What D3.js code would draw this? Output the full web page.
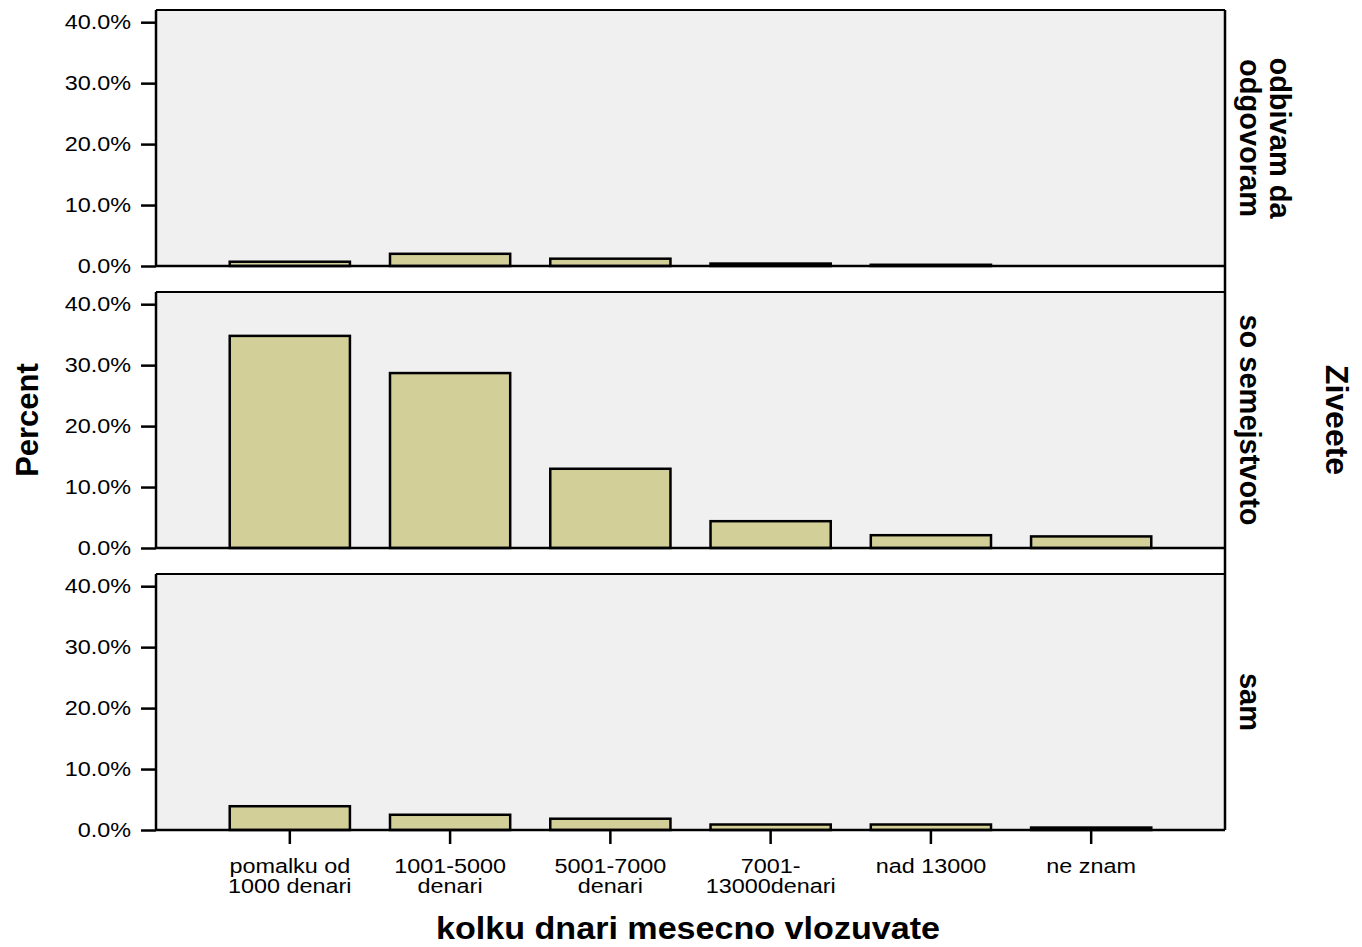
<!DOCTYPE html>
<html>
<head>
<meta charset="utf-8">
<script src="https://cdn.jsdelivr.net/npm/d3@7/dist/d3.min.js"></script>
<style>
  html, body { margin: 0; padding: 0; background: #fff; }
  text { font-family: "Liberation Sans", Arial, Helvetica, sans-serif; fill: #000; }
</style>
</head>
<body>
<svg id="chart" width="1362" height="947"></svg>
<script>
// ---- data ----
const categories = ["pomalku od\n1000 denari", "1001-5000\ndenari", "5001-7000\ndenari", "7001-\n13000denari", "nad 13000", "ne znam"];
const panelNames = ["odbivam da\nodgovoram", "so semejstvoto", "sam"];
const valuesOdbivam = [0.7, 2.0, 1.2, 0.4, 0.2, 0];
const valuesSemejstvo = [34.8, 28.7, 13.0, 4.4, 2.1, 1.9];
const valuesSam = [3.9, 2.5, 1.85, 0.9, 0.9, 0.4];
const yTicks = [0, 10, 20, 30, 40];
const xTitle = "kolku dnari mesecno vlozuvate";
const yTitle = "Percent";
const facetTitle = "Ziveete";

const panelValues = [valuesOdbivam, valuesSemejstvo, valuesSam];

// ---- layout ----
const svg = d3.select("#chart");
const left = 156, right = 1225;
const panelTops = [10, 292, 574];
const panelH = 256;
const barFill = "#d3cf99";
const bg = "#f0f0f0";

const x = d3.scaleBand().domain(categories).range([left, right]).paddingInner(0.25).paddingOuter(0.46);

function stretchedText(g, str, tx, ty, anchor, size, weight, sx) {
  return g.append("text")
    .attr("transform", `translate(${tx},${ty}) scale(${sx || 1.2},1)`)
    .attr("text-anchor", anchor)
    .style("font-size", size + "px")
    .style("font-weight", weight || "normal")
    .text(str);
}

panelNames.forEach((name, i) => {
  const top = panelTops[i], bottom = top + panelH;
  const y = d3.scaleLinear().domain([0, 42]).range([bottom, top]);
  const g = svg.append("g");

  g.append("rect").attr("x", left).attr("y", top).attr("width", right - left).attr("height", panelH)
    .attr("fill", bg);

  // bars
  g.selectAll("rect.bar").data(panelValues[i].map((v, j) => ({c: categories[j], v})))
    .join("rect").attr("class", "bar")
    .attr("x", d => x(d.c)).attr("width", x.bandwidth())
    .attr("y", d => y(d.v)).attr("height", d => y(0) - y(d.v))
    .attr("fill", barFill).attr("stroke", "#000").attr("stroke-width", 2.5)
    .attr("display", d => d.v > 0 ? null : "none");

  // frame: top and bottom lines
  g.append("line").attr("x1", left).attr("x2", right).attr("y1", top).attr("y2", top)
    .attr("stroke", "#000").attr("stroke-width", 2);
  g.append("line").attr("x1", left).attr("x2", right).attr("y1", bottom).attr("y2", bottom)
    .attr("stroke", "#000").attr("stroke-width", 2.5);

  // y axis
  const ya = d3.axisLeft(y).tickValues(yTicks).tickSize(15).tickPadding(0).tickFormat(d => "");
  const axG = g.append("g").attr("transform", `translate(${left},0)`).call(ya);
  axG.select(".domain").attr("d", `M0,${top}V${bottom}`).attr("stroke-width", 2.5);
  axG.selectAll(".tick line").attr("stroke-width", 2.5);
  yTicks.forEach(t => {
    stretchedText(g, t.toFixed(1) + "%", 131, y(t) + 7, "end", 19.5);
  });

  // facet label (rotated clockwise; first line on the right)
  const lines = name.split("\n");
  const cy = (top + bottom) / 2;
  const lh = 30;
  const lab = g.append("text")
    .attr("transform", `translate(1240,${cy}) rotate(90)`)
    .attr("text-anchor", "middle")
    .style("font-size", "29px").style("font-weight", "bold");
  lines.forEach((l, k) => {
    lab.append("tspan").attr("x", 0).attr("y", -(lines.length - 1 - k) * lh).text(l);
  });
});

// continuous right border
svg.append("line").attr("x1", right).attr("x2", right).attr("y1", panelTops[0]).attr("y2", panelTops[2] + panelH)
  .attr("stroke", "#000").attr("stroke-width", 2.5);

// x axis at bottom panel
const bottomY = panelTops[2] + panelH;
const xa = d3.axisBottom(x).tickSize(14).tickFormat(d => "");
const xg = svg.append("g").attr("transform", `translate(0,${bottomY})`).call(xa);
xg.select(".domain").remove();
xg.selectAll(".tick line").attr("stroke-width", 2.5);
categories.forEach(c => {
  const cx = x(c) + x.bandwidth() / 2;
  c.split("\n").forEach((l, k) => {
    stretchedText(svg, l, cx, 873 + k * 20, "middle", 19.5);
  });
});

// titles
stretchedText(svg, xTitle, 688, 939, "middle", 31, "bold", 1.1);
svg.append("text").attr("transform", `translate(38,${(panelTops[0] + panelTops[2] + panelH) / 2}) rotate(-90)`)
  .attr("text-anchor", "middle").style("font-size", "31px").style("font-weight", "bold").text(yTitle);
svg.append("text").attr("transform", `translate(1326,${(panelTops[0] + panelTops[2] + panelH) / 2}) rotate(90)`)
  .attr("text-anchor", "middle").style("font-size", "32px").style("font-weight", "bold").text(facetTitle);
</script>
</body>
</html>
